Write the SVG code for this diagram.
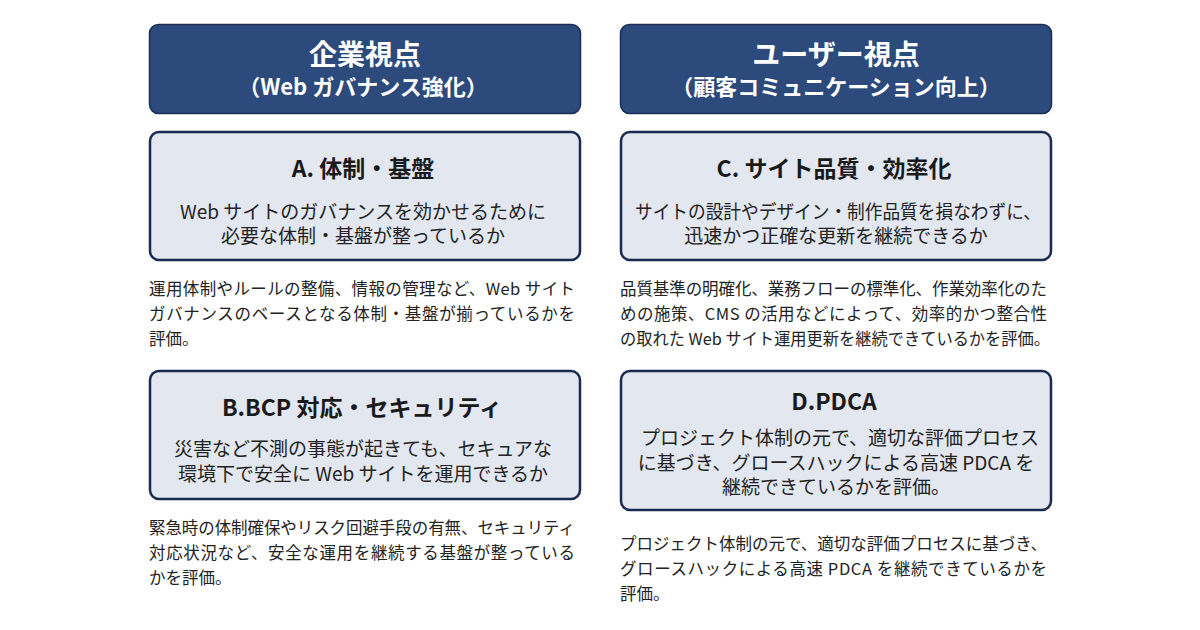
<svg xmlns="http://www.w3.org/2000/svg" width="1200" height="630" viewBox="0 0 1200 630">
<style>
.hdr{fill:#2c4a7b;stroke:#1c2e58;stroke-width:1.5}
.box{fill:#e3e7ef;stroke:#1b2a50;stroke-width:2.5}
text{font-family:"Noto Sans CJK JP","Noto Sans",sans-serif}
.h1{font-size:28px;font-weight:700;fill:#ffffff;text-anchor:middle}
.h2{font-size:22px;font-weight:700;fill:#ffffff;text-anchor:middle}
.t{font-size:23px;font-weight:700;fill:#1a1a1a;text-anchor:middle}
.b{font-size:19px;fill:#222222;text-anchor:middle}
.p{font-size:16.5px;fill:#222222}
</style>
<rect width="1200" height="630" fill="#ffffff"/>
<g id="header-left">
<rect class="hdr" x="149.5" y="24.5" width="431" height="89" rx="9"/>
<text class="h1" x="365" y="65">企業視点</text>
<text class="h2" x="363" y="95">（Web ガバナンス強化）</text>
</g>
<g id="header-right">
<rect class="hdr" x="620.5" y="24.5" width="431" height="89" rx="9"/>
<text class="h1" x="836" y="65">ユーザー視点</text>
<text class="h2" x="836" y="95">（顧客コミュニケーション向上）</text>
</g>
<g id="box-a">
<rect class="box" x="150" y="132" width="430" height="128" rx="9"/>
<text class="t" x="363" y="177">A. 体制・基盤</text>
<text class="b" x="363" y="218.5">Web サイトのガバナンスを効かせるために</text>
<text class="b" x="363" y="243">必要な体制・基盤が整っているか</text>
</g>
<g id="text-a">
<text class="p" x="149" y="295" textLength="426" lengthAdjust="spacing">運用体制やルールの整備、情報の管理など、Web サイト</text>
<text class="p" x="149" y="320" textLength="426" lengthAdjust="spacing">ガバナンスのベースとなる体制・基盤が揃っているかを</text>
<text class="p" x="149" y="344.5">評価。</text>
</g>
<g id="box-b">
<rect class="box" x="150" y="371" width="430" height="128" rx="9"/>
<text class="t" x="362" y="416">B.BCP 対応・セキュリティ</text>
<text class="b" x="363" y="456">災害など不測の事態が起きても、セキュアな</text>
<text class="b" x="363" y="481">環境下で安全に Web サイトを運用できるか</text>
</g>
<g id="text-b">
<text class="p" x="149" y="534" textLength="426" lengthAdjust="spacing">緊急時の体制確保やリスク回避手段の有無、セキュリティ</text>
<text class="p" x="149" y="559" textLength="426" lengthAdjust="spacing">対応状況など、安全な運用を継続する基盤が整っている</text>
<text class="p" x="149" y="584">かを評価。</text>
</g>
<g id="box-c">
<rect class="box" x="621" y="132" width="430" height="128" rx="9"/>
<text class="t" x="834" y="177">C. サイト品質・効率化</text>
<text class="b" x="838" y="218.5" textLength="406" lengthAdjust="spacingAndGlyphs">サイトの設計やデザイン・制作品質を損なわずに、</text>
<text class="b" x="836" y="243">迅速かつ正確な更新を継続できるか</text>
</g>
<g id="text-c">
<text class="p" x="620" y="295" textLength="427" lengthAdjust="spacing">品質基準の明確化、業務フローの標準化、作業効率化のた</text>
<text class="p" x="620" y="320" textLength="427" lengthAdjust="spacing">めの施策、CMS の活用などによって、効率的かつ整合性</text>
<text class="p" x="620" y="344.5" textLength="430" lengthAdjust="spacingAndGlyphs">の取れた Web サイト運用更新を継続できているかを評価。</text>
</g>
<g id="box-d">
<rect class="box" x="621" y="371" width="430" height="139" rx="9"/>
<text class="t" x="834" y="410">D.PDCA</text>
<text class="b" x="840" y="445">プロジェクト体制の元で、適切な評価プロセス</text>
<text class="b" x="836" y="469.5">に基づき、グロースハックによる高速 PDCA を</text>
<text class="b" x="836" y="494">継続できているかを評価。</text>
</g>
<g id="text-d">
<text class="p" x="620" y="550" textLength="427" lengthAdjust="spacing">プロジェクト体制の元で、適切な評価プロセスに基づき、</text>
<text class="p" x="620" y="575" textLength="427" lengthAdjust="spacing">グロースハックによる高速 PDCA を継続できているかを</text>
<text class="p" x="620" y="599.5">評価。</text>
</g>
<g id="connectors"/>
</svg>
